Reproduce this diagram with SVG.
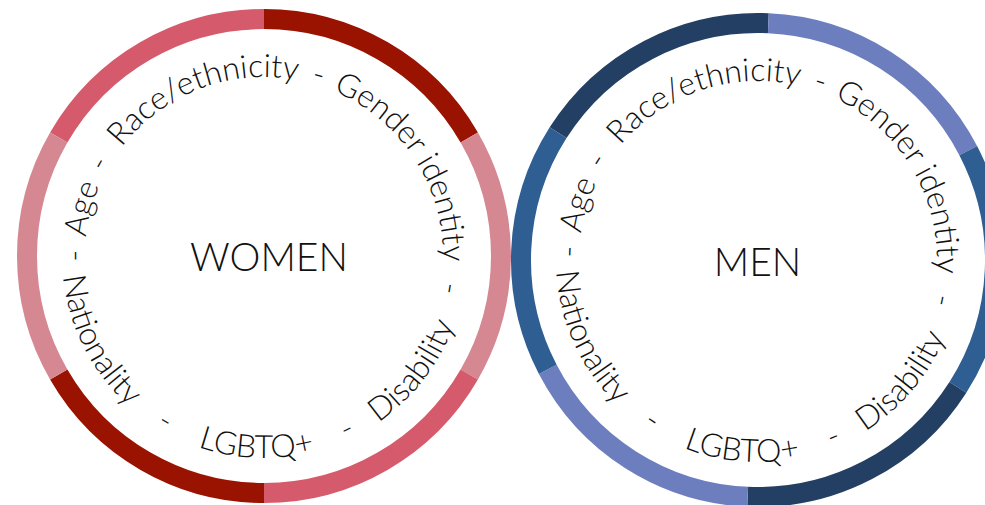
<svg xmlns="http://www.w3.org/2000/svg" xmlns:xlink="http://www.w3.org/1999/xlink" width="985" height="505" viewBox="0 0 985 505">
<defs>
<style>
.seg{fill:none;stroke-width:20;stroke-linecap:butt}
.rose{stroke:#D55A6B}.dred{stroke:#9A1300}.lpink{stroke:#D58792}
.navy{stroke:#233F63}.peri{stroke:#6D7EBF}.mblue{stroke:#2F5F92}
.rt{font-family:Lato,"Open Sans",sans-serif;font-weight:300;font-size:32px;fill:#111;text-anchor:middle}
.title{font-family:Lato,"Open Sans",sans-serif;font-weight:300;font-size:39px;fill:#111;text-anchor:middle}
</style>
<path id="lt" d="M137.43,382.57 A179,179 0 0 1 264,77 A179,179 0 0 1 390.57,382.57"/>
<path id="lb" d="M121.16,113.16 A202,202 0 0 0 264,458 A202,202 0 0 0 406.84,113.16"/>
<path id="rtp" d="M631.43,386.57 A179,179 0 0 1 758,81 A179,179 0 0 1 884.57,386.57"/>
<path id="rbp" d="M615.16,117.16 A202,202 0 0 0 758,462 A202,202 0 0 0 900.84,117.16"/>
</defs>
<rect width="985" height="505" fill="#fff"/>
<g id="women">
<path class="seg rose" d="M58.75,137.5 A237,237 0 0 1 264,19"/>
<path class="seg dred" d="M264,19 A237,237 0 0 1 469.25,137.5"/>
<path class="seg lpink" d="M469.25,137.5 A237,237 0 0 1 469.25,374.5"/>
<path class="seg rose" d="M469.25,374.5 A237,237 0 0 1 264,493"/>
<path class="seg dred" d="M264,493 A237,237 0 0 1 58.75,374.5"/>
<path class="seg lpink" d="M58.75,374.5 A237,237 0 0 1 58.75,137.5"/>
<text class="rt"><textPath xlink:href="#lt" startOffset="140.6">-</textPath></text>
<text class="rt"><textPath xlink:href="#lt" startOffset="185.9">Age</textPath></text>
<text class="rt"><textPath xlink:href="#lt" startOffset="232">-</textPath></text>
<text class="rt"><textPath xlink:href="#lt" startOffset="356">Race/ethnicity</textPath></text>
<text class="rt"><textPath xlink:href="#lt" startOffset="474">-</textPath></text>
<text class="rt"><textPath xlink:href="#lt" startOffset="600">Gender identity</textPath></text>
<text class="rt"><textPath xlink:href="#lt" startOffset="733.2">-</textPath></text>
<text class="rt"><textPath xlink:href="#lb" startOffset="253.8">Nationality</textPath></text>
<text class="rt"><textPath xlink:href="#lb" startOffset="367">-</textPath></text>
<text class="rt"><textPath xlink:href="#lb" startOffset="467.8">LGBTQ+</textPath></text>
<text class="rt"><textPath xlink:href="#lb" startOffset="565.9">-</textPath></text>
<text class="rt"><textPath xlink:href="#lb" startOffset="660.3">Disability</textPath></text>
<text class="title" x="269" y="271">WOMEN</text>
</g>
<g id="men">
<g transform="rotate(2.5 758 260)">
<path class="seg navy" d="M552.75,141.5 A237,237 0 0 1 758,23"/>
<path class="seg peri" d="M758,23 A237,237 0 0 1 963.25,141.5"/>
<path class="seg mblue" d="M963.25,141.5 A237,237 0 0 1 963.25,378.5"/>
<path class="seg navy" d="M963.25,378.5 A237,237 0 0 1 758,497"/>
<path class="seg peri" d="M758,497 A237,237 0 0 1 552.75,378.5"/>
<path class="seg mblue" d="M552.75,378.5 A237,237 0 0 1 552.75,141.5"/>
<text class="rt"><textPath xlink:href="#rtp" startOffset="140.6">-</textPath></text>
<text class="rt"><textPath xlink:href="#rtp" startOffset="185.9">Age</textPath></text>
<text class="rt"><textPath xlink:href="#rtp" startOffset="232">-</textPath></text>
<text class="rt"><textPath xlink:href="#rtp" startOffset="356">Race/ethnicity</textPath></text>
<text class="rt"><textPath xlink:href="#rtp" startOffset="474">-</textPath></text>
<text class="rt"><textPath xlink:href="#rtp" startOffset="600">Gender identity</textPath></text>
<text class="rt"><textPath xlink:href="#rtp" startOffset="733.2">-</textPath></text>
<text class="rt"><textPath xlink:href="#rbp" startOffset="253.8">Nationality</textPath></text>
<text class="rt"><textPath xlink:href="#rbp" startOffset="367">-</textPath></text>
<text class="rt"><textPath xlink:href="#rbp" startOffset="467.8">LGBTQ+</textPath></text>
<text class="rt"><textPath xlink:href="#rbp" startOffset="565.9">-</textPath></text>
<text class="rt"><textPath xlink:href="#rbp" startOffset="660.3">Disability</textPath></text>
</g>
<text class="title" x="757.5" y="276">MEN</text>
</g>
</svg>
